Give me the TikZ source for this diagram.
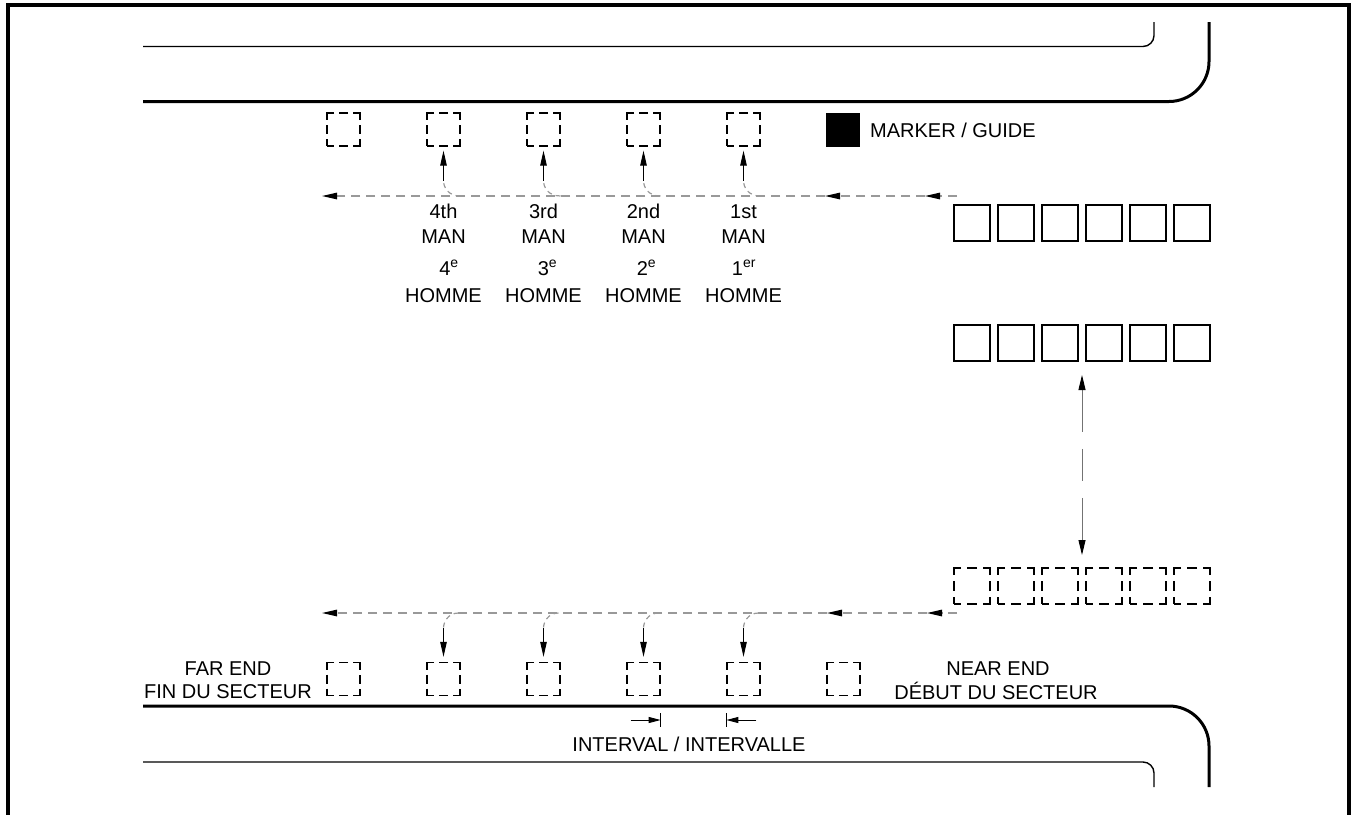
\documentclass[tikz,border=0pt]{standalone}
\usepackage{fontspec}
\setmainfont{Liberation Sans}
\usetikzlibrary{arrows.meta}
\begin{document}
\begin{tikzpicture}[x=1pt,y=-1pt,
  lbl/.style={font=\fontsize{20}{22}\selectfont, inner sep=0pt, anchor=base},
  dbox/.style={draw, line width=1.3pt, minimum size=33pt, inner sep=0pt,
    dash pattern=on 14pt off 5pt on 9pt off 5pt, dash phase=7pt},
  dboxb/.style={draw, line width=1.3pt, minimum size=36pt, inner sep=0pt,
    dash pattern=on 14pt off 6pt on 10pt off 6pt, dash phase=7pt},
  sbox/.style={draw, line width=1.3pt, minimum size=36pt, inner sep=0pt},
  gl/.style={draw=black!40, line width=1.2pt, dash pattern=on 9pt off 6pt},
  bl/.style={draw=black, line width=0.9pt},
  tip/.style={-{Triangle[length=15pt,width=6.5pt,color=black]}},
  thinrail/.style={line width=1.4pt, rounded corners=11pt},
  thickrail/.style={line width=3pt, rounded corners=40pt},
]
\useasboundingbox (0,0) rectangle (1356,814);
% frame
\draw[line width=4pt] (8,816) -- (8,5) -- (1349,5) -- (1349,816);
% rails
\draw[thinrail] (143,46.5) -| (1154,22);
\draw[thickrail] (143,101.5) -| (1209,22);
\draw[thickrail] (143,706) -| (1209,787);
\draw[thinrail] (143,762) -| (1154,787);

% top dashed positions
\foreach \i/\x in {0/343.5,1/443.5,2/543.5,3/643.5,4/743.5}
  \node[dbox] (t\i) at (\x,129.5) {};
% marker
\node[fill=black, minimum size=34pt, inner sep=0pt] (mk) at (843,130) {};
\node[lbl, anchor=base west] (mkl) at (870,137) {MARKER / GUIDE};

% solid boxes rows
\foreach \i in {0,...,5} {
  \node[sbox] (a\i) at (972+44*\i,223) {};
  \node[sbox] (m\i) at (972+44*\i,343) {};
  \node[dboxb] (r\i) at (972+44*\i,586) {};
}

% top dashed line
\coordinate (ts) at (957,196);
\coordinate (tm2) at (925,196);
\coordinate (tm1) at (825,196);
\coordinate (te) at (322,196);
\draw[gl,tip] (ts) -- (tm2);
\draw[gl,tip] (tm2) -- (tm1);
\draw[gl,tip] (tm1) -- (te);
\foreach \i in {1,...,4} {
  \path (t\i.south) ++(0,34) coordinate (tc\i);
  \draw[gl, dash pattern=on 5pt off 4pt] ([xshift=17pt]tc\i|-te) .. controls ([xshift=4pt]tc\i|-te) and ([yshift=-6pt]tc\i) .. (tc\i);
  \draw[bl,tip,shorten >=4pt] (tc\i) -- (t\i.south);
}

% labels top
\foreach \x/\a/\b/\s/\c in {443.5/4th/4/e/449, 543.5/3rd/3/e/547.5, 643.5/2nd/2/e/646.5, 743.5/1st/1/er/744} {
  \node[lbl] at (\x,218) {\a};
  \node[lbl] at (\x,243) {MAN};
  \node[lbl] at (\c,275) {\b\textsuperscript{\s}};
  \node[lbl] at (\x,302) {HOMME};
}

% vertical double arrow
\coordinate (vt) at (1082,375);
\coordinate (vb) at (1082,555);
\draw[draw=black!55, line width=0.9pt, dash pattern=on 42pt off 17pt on 32pt off 17pt on 80pt,
  {Triangle[length=15pt,width=7pt,color=black]}-{Triangle[length=15pt,width=7pt,color=black]}] (vt) -- (vb);

% bottom positions
\foreach \i/\x in {0/343.5,1/443.5,2/543.5,3/643.5,4/743.5,5/843.5}
  \node[dbox] (b\i) at (\x,679) {};

% bottom dashed line
\coordinate (bs) at (957,613);
\coordinate (bm2) at (927,613);
\coordinate (bm1) at (827,613);
\coordinate (be) at (322,613);
\draw[gl,tip] (bs) -- (bm2);
\draw[gl,tip] (bm2) -- (bm1);
\draw[gl,tip] (bm1) -- (be);
\foreach \i in {1,...,4} {
  \path (b\i.north) ++(0,-34) coordinate (bc\i);
  \draw[gl, dash pattern=on 5pt off 4pt] ([xshift=15pt]bc\i|-be) .. controls ([xshift=4pt]bc\i|-be) and ([yshift=5pt]bc\i) .. (bc\i);
  \draw[bl,tip,shorten >=5pt] (bc\i) -- (b\i.north);
}

% end labels
\node[lbl] (far1) at (228,675) {FAR END};
\node[lbl] (far2) at (228,698) {FIN DU SECTEUR};
\node[lbl] (near1) at (998,675) {NEAR END};
\node[lbl] (near2) at (996,699) {DÉBUT DU SECTEUR};

% interval
\coordinate (il) at (b3.east |- 0,720);
\coordinate (ir) at (b4.west |- 0,720);
\draw[bl] ([yshift=7pt]il) -- ([yshift=-7pt]il);
\draw[bl] ([yshift=7pt]ir) -- ([yshift=-7pt]ir);
\draw[bl,-{Triangle[length=12pt,width=6pt]}] ([xshift=-30pt]il) -- (il);
\draw[bl,-{Triangle[length=12pt,width=6pt]}] ([xshift=30pt]ir) -- (ir);
\node[lbl] (intv) at (689,751) {INTERVAL / INTERVALLE};
\end{tikzpicture}
\end{document}
